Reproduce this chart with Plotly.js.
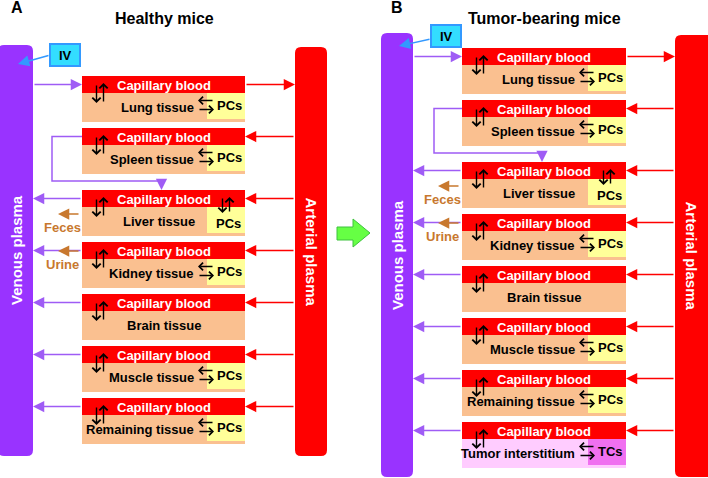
<!DOCTYPE html>
<html>
<head>
<meta charset="utf-8">
<script src="https://cdn.plot.ly/plotly-3.0.1.min.js"></script>
<style>html,body{margin:0;padding:0;background:#fff;}#chart{width:708px;height:478px;}</style>
</head>
<body>
<div id="chart"></div>
<script>
// ---- content (text) ----
const panelLetters = ['A', 'B'];
const panelTitles = ['Healthy mice', 'Tumor-bearing mice'];
const plasmaLabels = ['Venous plasma', 'Arterial plasma'];
const bloodLabel = 'Capillary blood';
const dosingLabel = 'IV';
const tissuesA = ['Lung tissue', 'Spleen tissue', 'Liver tissue', 'Kidney tissue', 'Brain tissue', 'Muscle tissue', 'Remaining tissue'];
const cellsA = ['PCs', 'PCs', 'PCs', 'PCs', '', 'PCs', 'PCs'];
const tissuesB = tissuesA.concat(['Tumor interstitium']);
const cellsB = cellsA.concat(['TCs']);
const excretaTissues = ['Liver tissue', 'Kidney tissue'];
const excretaLabels = ['Feces', 'Urine'];

// ---- layout / style config ----
const FONT = 'Liberation Sans, Arial, sans-serif';
const C = {
  venous: '#9933ff', purpleArrow: '#9f5cf5', red: '#ff0000', tissue: '#fac090', pcs: '#ffff99',
  tumorTissue: '#ffccff', tcs: '#f070f0', brown: '#c8782e', ivFill: '#33ddff', ivLine: '#3399ff',
  green: '#66ff44', greenLine: '#3fc23f'
};
const panels = [
  {tissues: tissuesA, cells: cellsA, venous: [-2, 33, 45, 456], arterial: [295, 327, 47, 456], box: [82, 245], first: 76,
   iv: [50, 80, 44, 66], ivArrow: [50, 55, 18, 64], letter: [17, 7], title: [164, 18], spleenX: 52},
  {tissues: tissuesB, cells: cellsB, venous: [381, 413, 33, 477], arterial: [675, 714, 35, 477], box: [462, 626], first: 48,
   iv: [431, 461, 25, 47], ivArrow: [431, 39, 399, 46], letter: [397, 7], title: [544, 18], spleenX: 434}
];
const PITCH = 52, GAP = 10, BOXH = 46, CAPH = 17;
const HEAD = 1.5, BHEAD = 1.15, BW = 1.4;

const shapes = [];
const annots = [];

function rect(x0, y0, x1, y1, fill, line, lw) {
  shapes.push({type: 'rect', xref: 'x', yref: 'y', x0, y0, x1, y1, fillcolor: fill,
    line: {color: line || fill, width: line ? (lw || 1) : 0}, layer: 'above'});
}
function rounded(x0, x1, y0, y1, r, fill) {
  const p = `M${x0 + r},${y0} L${x1 - r},${y0} Q${x1},${y0} ${x1},${y0 + r} L${x1},${y1 - r} Q${x1},${y1} ${x1 - r},${y1} ` +
            `L${x0 + r},${y1} Q${x0},${y1} ${x0},${y1 - r} L${x0},${y0 + r} Q${x0},${y0} ${x0 + r},${y0} Z`;
  shapes.push({type: 'path', xref: 'x', yref: 'y', path: p, fillcolor: fill, line: {width: 0}, layer: 'above'});
}
function arrow(x0, y0, x1, y1, color, w, head, size) {
  annots.push({x: x1, y: y1, ax: x0, ay: y0, xref: 'x', yref: 'y', axref: 'x', ayref: 'y', text: '',
    showarrow: true, arrowhead: head, arrowsize: size, arrowwidth: w, arrowcolor: color, standoff: 0, startstandoff: 0});
}
function line(pts, color, w) {
  shapes.push({type: 'path', xref: 'x', yref: 'y', path: 'M' + pts.map(p => p.join(',')).join(' L'),
    line: {color, width: w}, layer: 'above'});
}
function label(x, y, text, size, color, opts) {
  annots.push(Object.assign({x, y, xref: 'x', yref: 'y', text: '<b>' + text + '</b>', showarrow: false,
    font: {family: FONT, size, color}, xanchor: 'center', yanchor: 'middle'}, opts || {}));
}

panels.forEach((P, pi) => {
  const [bl, br] = P.box;
  const bc = (bl + br) / 2;
  const v = P.venous, a = P.arterial;
  // plasma bars
  rounded(v[0], v[1], v[2], v[3], 6, C.venous);
  rounded(a[0], a[1], a[2], a[3], 6, C.red);
  label((v[0] + v[1]) / 2 + (pi === 0 ? 1 : 0), (v[2] + v[3]) / 2, plasmaLabels[0], 15, '#ffffff', {textangle: -90});
  label((a[0] + Math.min(a[1], 708)) / 2, (a[2] + a[3]) / 2, plasmaLabels[1], 15, '#ffffff', {textangle: 90});
  // letter & title
  label(P.letter[0], P.letter[1], panelLetters[pi], 16, '#000');
  label(P.title[0], P.title[1], panelTitles[pi], 16, '#000');
  // IV box
  rect(P.iv[0], P.iv[2], P.iv[1], P.iv[3], C.ivFill, C.ivLine, 2);
  label((P.iv[0] + P.iv[1]) / 2, (P.iv[2] + P.iv[3]) / 2, dosingLabel, 13, '#000');
  arrow(P.ivArrow[0], P.ivArrow[1], P.ivArrow[2], P.ivArrow[3], C.ivLine, 1.5, 2, HEAD);

  const tops = P.tissues.map((t, i) => P.first + i * PITCH + (i >= 2 ? GAP : 0));
  P.tissues.forEach((t, i) => {
    const top = tops[i];
    const isTumor = P.cells[i] === 'TCs';
    rect(bl, top, br, top + BOXH, isTumor ? C.tumorTissue : C.tissue);
    rect(bl, top, br, top + CAPH, C.red);
    if (P.cells[i]) rect(br - 38, top + CAPH, br, top + BOXH - 3, isTumor ? C.tcs : C.pcs);
    label(bc, top + 9, bloodLabel, 13, '#ffffff');
    // blood <-> tissue arrows
    arrow(bl + 14.5, top + 8, bl + 14.5, top + 27, '#000', BW, 4, BHEAD);
    arrow(bl + 21.5, top + 27, bl + 21.5, top + 7, '#000', BW, 4, BHEAD);
    const my = top + 8.5;
    if (i === 0) {
      arrow(v[1], my, bl, my, C.purpleArrow, 1.5, 2, HEAD);
      arrow(br, my, a[0], my, C.red, 1.5, 2, HEAD);
    } else {
      arrow(a[0], my, br, my, C.red, 1.5, 2, HEAD);
      if (i !== 1) arrow(bl, my, v[1], my, C.purpleArrow, 1.5, 2, HEAD);
    }
    if (t === 'Liver tissue') {
      label(bc - 5, top + 31, t, 13, '#000');
      arrow(br - 22.5, top + 7, br - 22.5, top + 23, '#000', BW, 4, BHEAD);
      arrow(br - 15.5, top + 23, br - 15.5, top + 7, '#000', BW, 4, BHEAD);
      label(br - 17, top + 33, P.cells[i], 13, '#000');
    } else if (!P.cells[i]) {
      label(bc, top + 31, t, 13, '#000');
    } else {
      label(br - 49, top + 31, t, 13, '#000', {xanchor: 'right'});
      arrow(br - 31, top + 24.5, br - 47, top + 24.5, '#000', 1.3, 4, BHEAD);
      arrow(br - 47, top + 33.5, br - 31, top + 33.5, '#000', 1.3, 4, BHEAD);
      label(br - 16, top + 29, P.cells[i], 13, '#000');
    }
    const ex = excretaTissues.indexOf(t);
    if (ex >= 0) {
      const ay = ex === 0 ? top + 24 : top + 9;
      arrow(bl - 2, ay, bl - 24, ay, C.brown, 1.5, 2, HEAD);
      label(bl - 20, ay + 13.5, excretaLabels[ex], 13, C.brown);
    }
  });
  // spleen -> liver route
  const sy = tops[1] + 8.5;
  const ry = tops[1] + BOXH + 7;
  const lx = bc - 2;
  line([[bl, sy], [P.spleenX, sy], [P.spleenX, ry], [lx, ry]], C.purpleArrow, 1.5);
  arrow(lx, ry - 0.75, lx, tops[2], C.purpleArrow, 1.5, 2, HEAD);
});

// green transition arrow
shapes.push({type: 'path', xref: 'x', yref: 'y',
  path: 'M337,227 L353,227 L353,219 L370,233 L353,247 L353,240 L337,240 Z',
  fillcolor: C.green, line: {color: C.greenLine, width: 1}, layer: 'above'});

const layout = {
  width: 708, height: 478, margin: {l: 0, r: 0, t: 0, b: 0},
  paper_bgcolor: '#ffffff', plot_bgcolor: '#ffffff',
  xaxis: {range: [0, 708], visible: false, fixedrange: true},
  yaxis: {range: [478, 0], visible: false, fixedrange: true},
  showlegend: false, shapes, annotations: annots
};
Plotly.newPlot('chart', [{x: [0], y: [0], mode: 'markers', marker: {opacity: 0}, hoverinfo: 'skip'}], layout,
  {staticPlot: true, displayModeBar: false});
</script>
</body>
</html>
